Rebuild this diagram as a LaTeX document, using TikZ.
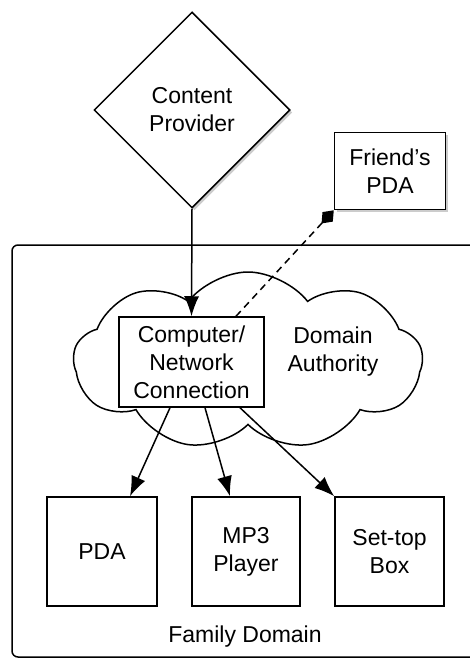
\documentclass[tikz,border=0pt]{standalone}
\usepackage{fontspec}
\setmainfont{Liberation Sans}
\usetikzlibrary{shapes.geometric,shapes.symbols,arrows.meta,shadows}

\begin{document}
\begin{tikzpicture}[x = 1pt, y = -1pt, line width = 1.5pt,
	font = \fontsize{23}{28}\selectfont,
	box/.style = {draw, fill = white, align = center, inner sep = 0pt},
	shade/.style = {drop shadow = {shadow xshift = 2.5pt, shadow yshift = -2.5pt, opacity = 0.4}},
	arr/.style = {-{Latex[length = 20pt, width = 15pt]}}]
	%	canvas
	\useasboundingbox (0, 0) rectangle (469, 658);
	
	%	family domain
	\node[draw, rounded corners = 6pt, minimum width = 478pt, minimum height = 412pt] (family) at (251, 451) {};
	\node (familylbl) at (245, 637) {Family Domain};
	
	%	cloud
	\node[cloud, draw, cloud puffs = 9, cloud puff arc = 105, aspect = 2, minimum width = 349pt, minimum height = 178pt] (authority) at (248, 361) {};
	\node[align = center] (authlbl) at (333, 352) {Domain\\Authority};
	
	%	top
	\node[box, diamond, aspect = 1, minimum width = 196pt, minimum height = 196pt, shade] (provider) at (192, 110) {Content\\Provider};
	\node[box, minimum width = 111pt, minimum height = 77pt, shade] (friend) at (390, 171) {Friend's\\PDA};
	
	%	computer
	\node[box, minimum width = 145pt, minimum height = 90pt] (comp) at (191.5, 362) {Computer/\\Network\\Connection};
	
	%	devices
	\node[box, minimum width = 110pt, minimum height = 109pt] (pda) at (102, 551.5) {PDA};
	\node[box, minimum width = 108pt, minimum height = 109pt] (mp3) at (246, 551.5) {MP3\\Player};
	\node[box, minimum width = 109pt, minimum height = 109pt] (settop) at (389.5, 551.5) {Set-top\\Box};
	
	%	links
	\draw[arr] (provider.south) -- (comp.north);
	\draw[dash pattern = on 7pt off 5pt, -{Diamond[length = 18pt, width = 14pt]}] ([xshift = 44.5pt]comp.north) -- (friend.south west);
	\draw[arr] ([xshift = -21.5pt]comp.south) -- ([xshift = 28pt]pda.north);
	\draw[arr] ([xshift = 13.5pt]comp.south) -- ([xshift = -16pt]mp3.north);
	\draw[arr] ([xshift = 48.5pt]comp.south) -- (settop.north west);
\end{tikzpicture}
\end{document}
